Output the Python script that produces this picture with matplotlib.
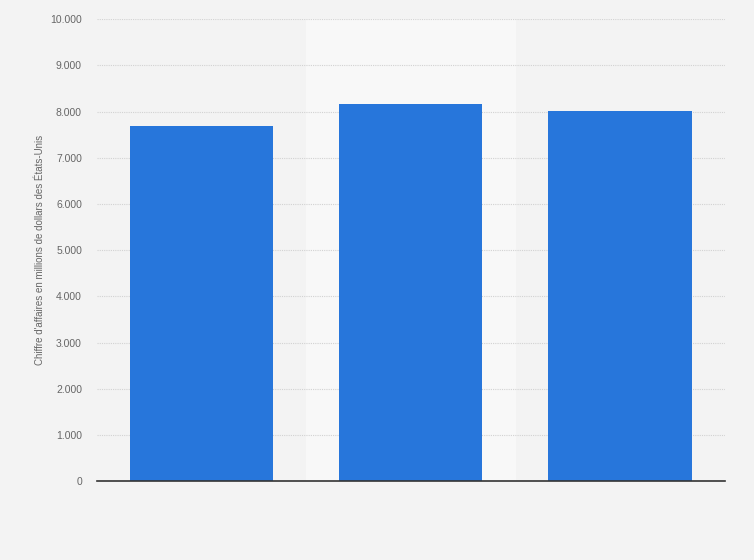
import matplotlib.pyplot as plt
from matplotlib.ticker import FuncFormatter

plt.rcParams['font.family'] = ['Liberation Sans', 'DejaVu Sans']

categories = ['2019', '2020', '2021']
revenue = [7690, 8165, 8010]
y_ticks = [0, 1000, 2000, 3000, 4000, 5000, 6000, 7000, 8000, 9000, 10000]

fig = plt.figure(figsize=(7.54, 5.6), dpi=100)
fig.patch.set_facecolor('#f3f3f3')
ax = fig.add_axes([0.1286, 0.141, 0.8324, 0.8245])
ax.set_facecolor('#f3f3f3')

x = range(len(categories))
ax.axvspan(0.5, 1.5, color='#f8f8f8', zorder=0)
ax.bar(x, revenue, width=0.685, color='#2776db', zorder=3)

ax.set_xlim(-0.5, len(categories) - 0.5)
ax.set_ylim(0, 10000)
ax.set_yticks(y_ticks)
ax.yaxis.set_major_formatter(FuncFormatter(lambda v, p: f'{int(v):,}'.replace(',', '.')))
ax.set_xticks([])
ax.grid(axis='y', color='#d2d2d2', linestyle=(0, (1, 1)), linewidth=0.8, zorder=1)
ax.tick_params(axis='y', length=0, pad=10.8, labelsize=7.5, labelcolor='#666666')

for s in ['top', 'right', 'left']:
    ax.spines[s].set_visible(False)
ax.spines['bottom'].set_color('#333333')
ax.spines['bottom'].set_linewidth(1.2)
ax.spines['bottom'].set_zorder(4)

ax.set_ylabel("Chiffre d'affaires en millions de dollars des États-Unis",
              fontsize=7, color='#666666', labelpad=4)

plt.savefig('out.png', dpi=100, facecolor=fig.get_facecolor())
